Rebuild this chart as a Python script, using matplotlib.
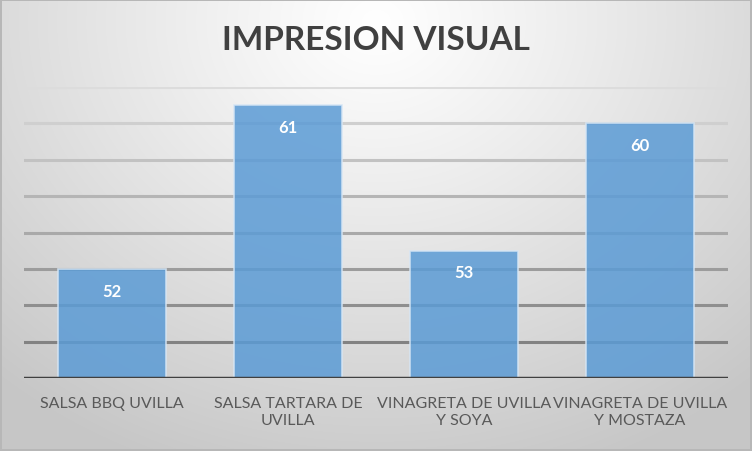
import numpy as np
import matplotlib
matplotlib.use("Agg")
import matplotlib.pyplot as plt
from matplotlib.colors import to_rgb

categories = ["SALSA BBQ UVILLA", "SALSA TARTARA DE\nUVILLA",
              "VINAGRETA DE UVILLA\nY SOYA", "VINAGRETA DE UVILLA\nY MOSTAZA"]
values = [52, 61, 53, 60]
title = "IMPRESION VISUAL"
y_min, y_max, y_step = 46, 62, 2

plt.rcParams['font.family'] = ['Lato', 'DejaVu Sans']

fig = plt.figure(figsize=(7.52, 4.52), dpi=100)

# background radial gradient
bg = fig.add_axes([0, 0, 1, 1], zorder=0)
H, W = 452, 752
yy, xx = np.mgrid[0:H, 0:W]
cx, cy = W * 0.5, H * 0.05
r = np.sqrt(((xx - cx) / (W * 0.75)) ** 2 + ((yy - cy) / (H * 1.05)) ** 2)
r = np.clip(r, 0, 1)
c_in, c_out = 1.0, 0.78
val = c_in + (c_out - c_in) * r ** 1.1
img = np.dstack([val, val, val])
# border
img[:2, :, :] = 0.72
img[-2:, :, :] = 0.72
img[:, :2, :] = 0.72
img[:, -2:, :] = 0.72
bg.imshow(img, aspect='auto', extent=[0, 1, 0, 1], origin='upper')
bg.set_axis_off()

ax = fig.add_axes([24 / 752, 1 - 379 / 452, (728 - 24) / 752, (379 - 88) / 452], zorder=1)
ax.patch.set_alpha(0)
x = np.arange(len(categories))
ax.set_xlim(-0.5, len(categories) - 0.5)
ax.set_ylim(y_min, y_max)

# gridlines with gradient colour (darker towards bottom)
grid_vals = np.arange(y_min + y_step, y_max + 0.1, y_step)
dark, light = np.array(to_rgb("#828282")), np.array(to_rgb("#dcdcdc"))
for gv in grid_vals:
    t = (gv - grid_vals[0]) / (grid_vals[-1] - grid_vals[0])
    col = dark + (light - dark) * t
    ax.axhline(gv, color=col, lw=2.2, zorder=1)

bars = ax.bar(x, values, width=0.61, bottom=0, color="#5b9bd5", alpha=0.85,
              edgecolor="#d6e6f5", linewidth=1.2, zorder=2)
for xi, v in zip(x, values):
    ax.text(xi, v - 0.75, str(v), ha='center', va='top', color='white',
            fontsize=12, fontweight='bold', zorder=3)

ax.axhline(y_min, color="#404040", lw=2.5, zorder=4)

for s in ax.spines.values():
    s.set_visible(False)
ax.set_yticks([])
ax.set_xticks(x)
ax.set_xticklabels(categories, fontsize=11.5, color="#595959", linespacing=1.25)
ax.tick_params(axis='x', length=0, pad=13)

fig.text(0.5, 1 - 40 / 452, title, ha='center', va='center', fontsize=24,
         fontweight='bold', color="#404040")

fig.savefig("out.png", dpi=100)
